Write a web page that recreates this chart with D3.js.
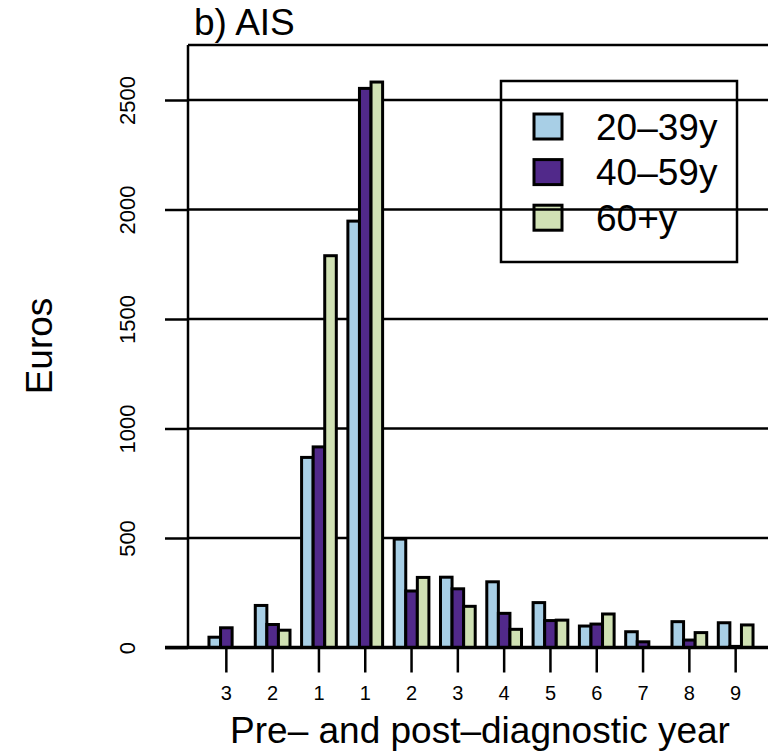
<!DOCTYPE html>
<html>
<head>
<meta charset="utf-8">
<script src="https://cdn.jsdelivr.net/npm/d3@7"></script>
<style>
body { margin: 0; background: #fff; }
text { font-family: "Liberation Sans", Arial, sans-serif; }
</style>
</head>
<body>
<div class="cont"></div>
<script>
var w = 768,
h = 753;

// values
var years = ["3", "2", "1", "1", "2", "3", "4", "5", "6", "7", "8", "9"];
var age20 = [47, 192, 868, 1947, 495, 321, 300, 205, 98, 72, 118, 113];
var age40 = [90, 105, 916, 2553, 258, 268, 156, 123, 107, 26, 34, 5];
var age60 = [0, 79, 1789, 2582, 320, 188, 83, 125, 153, 0, 68, 103];
var groups = ["20\u201339y", "40\u201359y", "60+y"];
var yTicks = [0, 500, 1000, 1500, 2000, 2500];

var colors = ["#a8cfe6", "#51298a", "#d0e1b4"];
var series = [age20, age40, age60];

var pLeft = 188, pTop = 45, pRight = 772, base = 647.5;

var svg = d3.select(".cont").append("svg").
attr("width", w).
attr("height", h);

var yScale = d3.scaleLinear().
domain([0, 2500]).
range([base, 100]);

var xScale = d3.scaleBand().
domain(d3.range(years.length)).
range([197.4, 764.6]).
paddingInner(0.25).
paddingOuter(0.25);

var inner = d3.scaleBand().
domain(d3.range(groups.length)).
range([0, xScale.bandwidth()]);

// legend (sits under the grid lines in the original)
var leg = svg.append("g").attr("transform", "translate(501,81)");
leg.append("rect").
attr("width", 236).
attr("height", 181).
attr("fill", "#fff").
attr("stroke", "#000").
attr("stroke-width", 2.5);
leg.selectAll(".sw").
data(groups).
enter().append("rect").
attr("x", 33).
attr("y", function (d, i) {return 33 + i * 45.6;}).
attr("width", 28).
attr("height", 25).
attr("fill", function (d, i) {return colors[i];}).
attr("stroke", "#000").
attr("stroke-width", 3);
leg.selectAll(".lt").
data(groups).
enter().append("text").
attr("x", 95).
attr("y", function (d, i) {return 45.5 + i * 45.6;}).
attr("dy", "0.36em").
style("font-size", "37px").
text(function (d) {return d;});

// grid lines
svg.append("g").
selectAll("line").
data(yTicks).
enter().append("line").
attr("x1", pLeft).
attr("x2", pRight).
attr("y1", function (d) {return yScale(d);}).
attr("y2", function (d) {return yScale(d);}).
attr("stroke", "#000").
attr("stroke-width", 2.5);

// bars
svg.append("g").
selectAll("g").
data(years.map(function (y, i) {return i;})).
enter().append("g").
attr("transform", function (i) {return "translate(" + xScale(i) + ",0)";}).
selectAll("rect").
data(function (i) {return series.map(function (s, k) {return {k: k, v: s[i]};});}).
enter().append("rect").
attr("x", function (d) {return inner(d.k);}).
attr("width", inner.bandwidth()).
attr("y", function (d) {return yScale(d.v);}).
attr("height", function (d) {return base - yScale(d.v);}).
attr("fill", function (d) {return colors[d.k];}).
attr("stroke", "#000").
attr("stroke-width", 3);

// base line
svg.append("line").
attr("x1", 165).attr("x2", pRight).
attr("y1", base).attr("y2", base).
attr("stroke", "#000").
attr("stroke-width", 3.5);

// y axis
var yAxis = d3.axisLeft(yScale).
tickValues(yTicks).
tickSize(23).
tickFormat(d3.format("d"));
var ya = svg.append("g").
attr("transform", "translate(" + pLeft + ",0)").
call(yAxis);
ya.select(".domain").remove();
ya.selectAll("line").attr("stroke", "#000").attr("stroke-width", 2.5);
ya.selectAll("text").
attr("x", 0).
attr("dy", 0).
attr("transform", "translate(-53,0) rotate(-90)").
attr("text-anchor", "middle").
style("font-size", "22px").
attr("fill", "#000");

svg.append("line").
attr("x1", pLeft).attr("x2", pLeft).
attr("y1", pTop).attr("y2", base).
attr("stroke", "#000").attr("stroke-width", 2.5);
svg.append("line").
attr("x1", pLeft).attr("x2", pRight).
attr("y1", pTop).attr("y2", pTop).
attr("stroke", "#000").attr("stroke-width", 2.5);

// x axis ticks at group centres
var xa = svg.append("g").
selectAll("g").
data(years).
enter().append("g").
attr("transform", function (d, i) {return "translate(" + (xScale(i) + xScale.bandwidth() / 2) + "," + base + ")";});
xa.append("line").
attr("y2", 25).
attr("stroke", "#000").
attr("stroke-width", 2.5);
xa.append("text").
attr("y", 52).
attr("text-anchor", "middle").
style("font-size", "20px").
text(function (d) {return d;});

// titles
svg.append("text").
attr("x", 194).
attr("y", 35).
style("font-size", "37px").
text("b) AIS");

svg.append("text").
attr("x", 480).
attr("y", 743).
attr("text-anchor", "middle").
style("font-size", "37px").
text("Pre\u2013 and post\u2013diagnostic year");

svg.append("text").
attr("transform", "translate(52,346) rotate(-90)").
attr("text-anchor", "middle").
style("font-size", "37px").
text("Euros");
</script>
</body>
</html>
